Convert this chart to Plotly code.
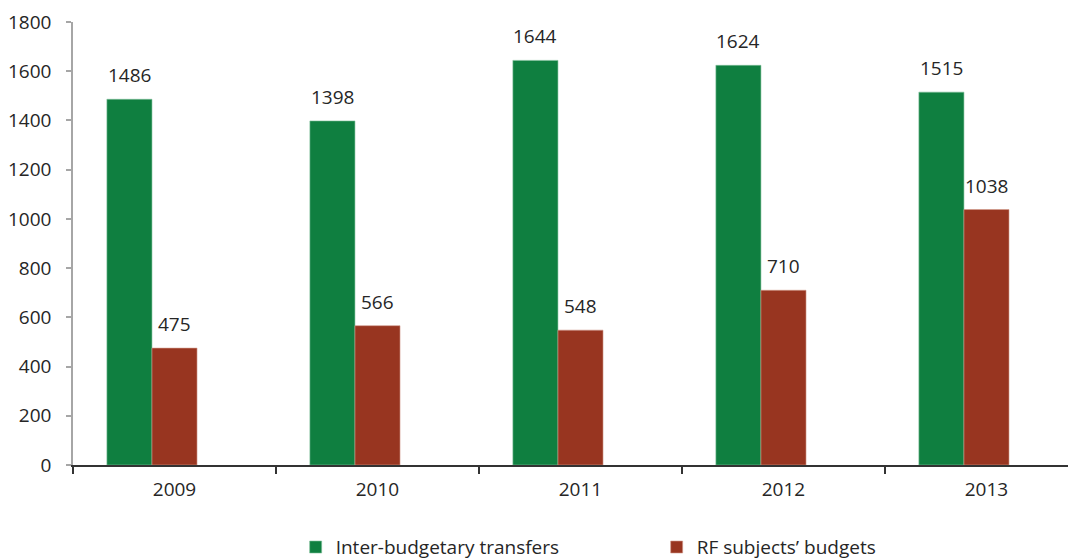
import plotly.graph_objects as go

years = ["2009", "2010", "2011", "2012", "2013"]
transfers = [1486, 1398, 1644, 1624, 1515]
subjects = [475, 566, 548, 710, 1038]
series_names = ["Inter-budgetary transfers", "RF subjects\u2019 budgets"]
y_ticks = [0, 200, 400, 600, 800, 1000, 1200, 1400, 1600, 1800]

GREEN = "#0f7f40"
RED = "#983520"
FONT = "Open Sans"
FS = 19
TXT = "#262626"

fig = go.Figure()
fig.add_trace(go.Bar(
    x=years, y=transfers, name=series_names[0],
    marker=dict(color=GREEN, line=dict(color="#7fbf9a", width=0.6)),
    width=0.222, offset=-0.333,
))
fig.add_trace(go.Bar(
    x=years, y=subjects, name=series_names[1],
    marker=dict(color=RED, line=dict(color="#d19a8c", width=0.6)),
    width=0.222, offset=-0.111,
))

# value labels above the bars (category index positions)
for i, v in enumerate(transfers):
    fig.add_annotation(x=i, y=v, text=str(v), showarrow=False,
                       xanchor="center", yanchor="bottom", xshift=-45, yshift=9,
                       font=dict(family=FONT, size=FS, color=TXT))
for i, v in enumerate(subjects):
    fig.add_annotation(x=i, y=v, text=str(v), showarrow=False,
                       xanchor="center", yanchor="bottom", xshift=0, yshift=9,
                       font=dict(family=FONT, size=FS, color=TXT))

# the page body adds an 8px offset, so the figure is 8px smaller on each side
fig.update_layout(
    width=1068, height=552,
    margin=dict(l=65, r=0, t=14, b=95, autoexpand=False),
    plot_bgcolor="white", paper_bgcolor="white",
    barmode="overlay",
    font=dict(family=FONT, size=FS, color=TXT),
    xaxis=dict(
        type="category", range=[-0.5, 4.441], automargin=False,
        showline=True, linecolor="#333333", linewidth=1.5,
        ticks="outside", tickson="boundaries", ticklen=7, tickcolor="#333333", tickwidth=1.5,
        tickfont=dict(family=FONT, size=FS, color=TXT),
        ticklabelstandoff=6,
        showgrid=False, zeroline=False,
    ),
    yaxis=dict(
        range=[0, 1800], tickvals=y_ticks, automargin=False,
        showline=True, linecolor="#a6a6a6", linewidth=1.5,
        ticks="outside", ticklen=5, tickcolor="#a6a6a6", tickwidth=1.5,
        tickfont=dict(family=FONT, size=FS, color=TXT),
        ticklabelstandoff=11,
        showgrid=False, zeroline=False,
    ),
    legend=dict(
        orientation="h", x=0.222, xanchor="left", y=-0.1855, yanchor="middle",
        entrywidth=316, entrywidthmode="pixels",
        font=dict(family=FONT, size=FS, color=TXT),
        bgcolor="rgba(0,0,0,0)", traceorder="normal",
    ),
    showlegend=True,
)

fig.write_html("out.html")
